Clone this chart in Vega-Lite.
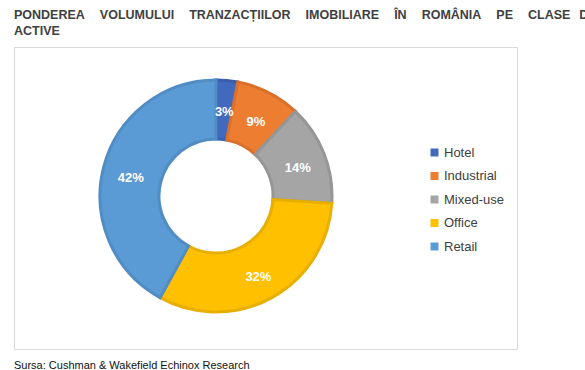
{
  "$schema": "https://vega.github.io/schema/vega-lite/v6.json",
  "background": "white",
  "padding": {"left": 13, "top": 8, "right": 0, "bottom": 0},
  "title": {
    "text": "Sursa: Cushman & Wakefield Echinox Research",
    "orient": "bottom",
    "anchor": "start",
    "frame": "group",
    "font": "Liberation Sans",
    "fontSize": 11,
    "fontWeight": "normal",
    "color": "#111111",
    "offset": 10
  },
  "vconcat": [
    {
      "title": {
        "text": ["PONDEREA\u2003\u2009VOLUMULUI\u2003\u2009TRANZACȚIILOR\u2003\u2009IMOBILIARE\u2003\u2009ÎN\u2003\u2009ROMÂNIA\u2003\u2009PE\u2003\u2009CLASE\u2002\u2009DE", "ACTIVE"],
        "anchor": "start",
        "frame": "group",
        "font": "Liberation Sans",
        "fontSize": 12.5,
        "fontWeight": "bold",
        "color": "#404040",
        "lineHeight": 16,
        "offset": 10
      },
      "width": 503,
      "height": 302,
      "view": {"stroke": "#d9d9d9", "strokeWidth": 1, "fill": "white"},
      "data": {
        "values": [
          {"cat": "Hotel", "pct": 0.03},
          {"cat": "Industrial", "pct": 0.09},
          {"cat": "Mixed-use", "pct": 0.14},
          {"cat": "Office", "pct": 0.32},
          {"cat": "Retail", "pct": 0.42}
        ]
      },
      "encoding": {
        "theta": {"field": "pct", "type": "quantitative", "stack": true},
        "order": {"field": "cat", "type": "nominal"}
      },
      "layer": [
        {
          "mark": {"type": "arc", "outerRadius": 116, "innerRadius": 57, "x": 202, "y": 149, "strokeWidth": 3},
          "encoding": {
            "color": {
              "field": "cat",
              "type": "nominal",
              "scale": {"domain": ["Hotel", "Industrial", "Mixed-use", "Office", "Retail"], "range": ["#4169BE", "#ED7D31", "#A5A5A5", "#FFC000", "#5B9BD5"]},
              "legend": {
                "title": null,
                "orient": "none",
                "legendX": 414,
                "legendY": 99,
                "symbolType": "square",
                "symbolSize": 64,
                "symbolStrokeWidth": 0,
                "labelFont": "Liberation Sans",
                "labelFontSize": 13,
                "labelColor": "#404040",
                "labelOffset": 3,
                "rowPadding": 9.5
              }
            },
            "stroke": {
              "field": "cat",
              "type": "nominal",
              "scale": {"domain": ["Hotel", "Industrial", "Mixed-use", "Office", "Retail"], "range": ["#3A5EAC", "#D9702B", "#969696", "#E8AE00", "#518CC4"]},
              "legend": null
            }
          }
        },
        {
          "mark": {"type": "text", "radius": 88, "x": 202, "y": 153, "font": "Liberation Sans", "fontSize": 13, "fontWeight": "bold", "color": "white"},
          "encoding": {
            "text": {"field": "pct", "type": "quantitative", "format": ".0%"}
          }
        }
      ]
    }
  ],
  "config": {
    "view": {"stroke": "#d9d9d9", "strokeWidth": 1}
  }
}
